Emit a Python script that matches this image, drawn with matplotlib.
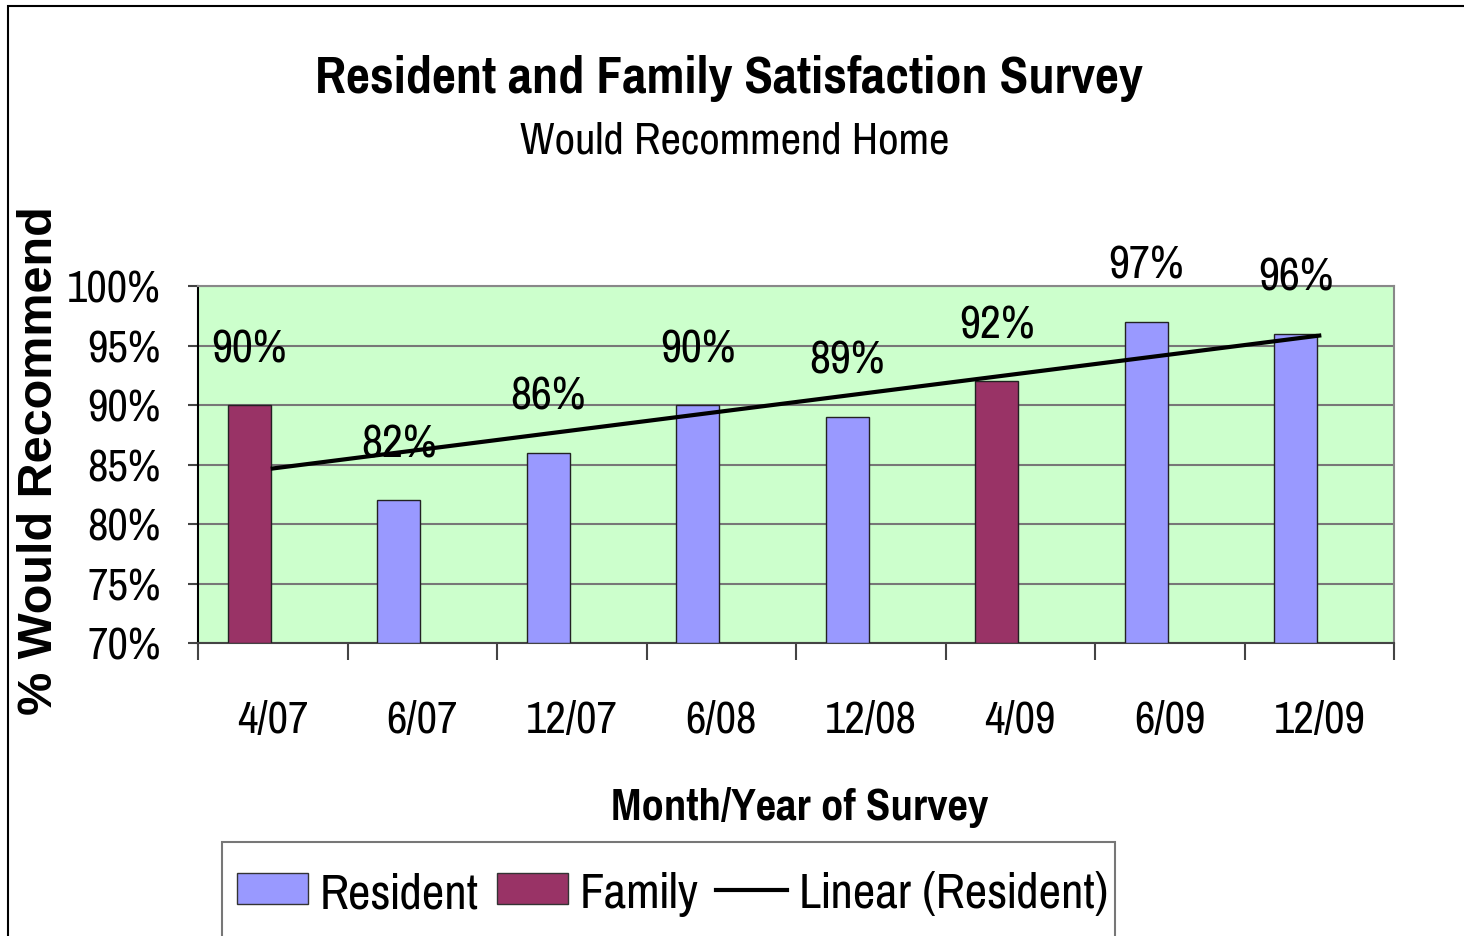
import numpy as np
import matplotlib
matplotlib.use("Agg")
import matplotlib.pyplot as plt
from matplotlib.patches import Rectangle, Patch
from matplotlib.lines import Line2D
from matplotlib import font_manager as fm

categories = ["4/07", "6/07", "12/07", "6/08", "12/08", "4/09", "6/09", "12/09"]
values = [90, 82, 86, 90, 89, 92, 97, 96]
series = ["Family", "Resident", "Resident", "Resident", "Resident", "Family", "Resident", "Resident"]
yticks = [70, 75, 80, 85, 90, 95, 100]

colors = {"Resident": "#9999FF", "Family": "#993366"}

available = {f.name for f in fm.fontManager.ttflist}
narrow_pref = ["Liberation Sans Narrow", "Arial Narrow", "Pragati Narrow", "Archivo Narrow",
               "PT Sans Narrow", "Roboto Condensed", "IBM Plex Sans Condensed"]
narrow = next((n for n in narrow_pref if n in available), "Liberation Sans")
NARROW = [narrow, "DejaVu Sans"]
plt.rcParams["font.family"] = NARROW

W, H = 1464, 937
fig = plt.figure(figsize=(W / 100, H / 100), dpi=100)
fig.patch.set_facecolor("white")

# outer chart frame
fig.add_artist(Rectangle((8 / W, -0.1), 1.2, 1 - 7 / H + 0.1, transform=fig.transFigure,
                         fill=False, edgecolor="black", linewidth=1.5))

ax = fig.add_axes([198 / W, 1 - 644 / H, 1196 / W, 357 / H])
ax.set_facecolor("#CCFFCC")

x = np.arange(len(categories))
offset = -0.157
bw = 0.287
for xi, v, s in zip(x, values, series):
    ax.bar(xi + offset, v - 70, bottom=70, width=bw, color=colors[s],
           edgecolor="#222222", linewidth=1.0, zorder=3)
    ax.annotate(f"{v}%", (xi + offset, v), xytext=(0, 41), textcoords="offset points",
                ha="center", va="center", fontsize=36, zorder=5)

# linear trendline fitted over all values
coef = np.polyfit(x, values, 1)
trend = np.polyval(coef, x)
ax.plot([x[0], x[-1]], [trend[0], trend[-1]], color="black", linewidth=3, zorder=4)

ax.set_xlim(-0.5, len(categories) - 0.5)
ax.set_ylim(70, 100)
ax.set_yticks(yticks)
ax.set_yticklabels([f"{t}%" for t in yticks])
ax.yaxis.grid(True, color="#777777", linewidth=1.5, zorder=1)
ax.set_axisbelow(True)

ax.set_xticks(x)
ax.set_xticklabels(categories)
ax.set_xticks(np.arange(-0.5, len(categories)), minor=True)
ax.tick_params(axis="x", which="major", length=0, pad=41, labelsize=35)
ax.tick_params(axis="x", which="minor", length=12, width=1.5, color="#444444")
ax.tick_params(axis="y", which="major", length=7, width=1.5, color="#444444", pad=20, labelsize=35)

for side in ["top", "right"]:
    ax.spines[side].set_color("#888888")
    ax.spines[side].set_linewidth(1.5)
ax.spines["left"].set_color("black")
ax.spines["left"].set_linewidth(1.5)
ax.spines["bottom"].set_color("#444444")
ax.spines["bottom"].set_linewidth(1.5)

fig.text(729 / W, 1 - 78 / H, "Resident and Family Satisfaction Survey", ha="center", va="center",
         fontsize=41, fontweight="bold")
fig.text(735 / W, 1 - 141 / H, "Would Recommend Home", ha="center", va="center", fontsize=35)
fig.text(800 / W, 1 - 808 / H, "Month/Year of Survey", ha="center", va="center",
         fontsize=35, fontweight="bold")
fig.text(40 / W, 1 - 461 / H, "% Would Recommend", ha="center", va="center", rotation=90,
         fontsize=35, fontweight="bold", family=["Liberation Sans", "DejaVu Sans"])

# legend box (extends past the bottom edge as in the reference)
fig.add_artist(Rectangle((222 / W, -0.1), (1115 - 222) / W, 0.1 + (937 - 843) / H,
                         transform=fig.transFigure, fill=False, edgecolor="#777777", linewidth=1.5))
handles = [Patch(facecolor=colors["Resident"], edgecolor="#333333", linewidth=1),
           Patch(facecolor=colors["Family"], edgecolor="#333333", linewidth=1),
           Line2D([], [], color="black", linewidth=3)]
leg = fig.legend(handles, ["Resident", "Family", "Linear (Resident)"], loc="center left",
                 bbox_to_anchor=(237 / W, 1 - 895 / H), ncol=3, fontsize=38.5,
                 frameon=False, borderaxespad=0, handlelength=1.33,
                 handleheight=0.52, handletextpad=0.22, columnspacing=0.33, borderpad=0)

fig.savefig("out.png", dpi=100)
